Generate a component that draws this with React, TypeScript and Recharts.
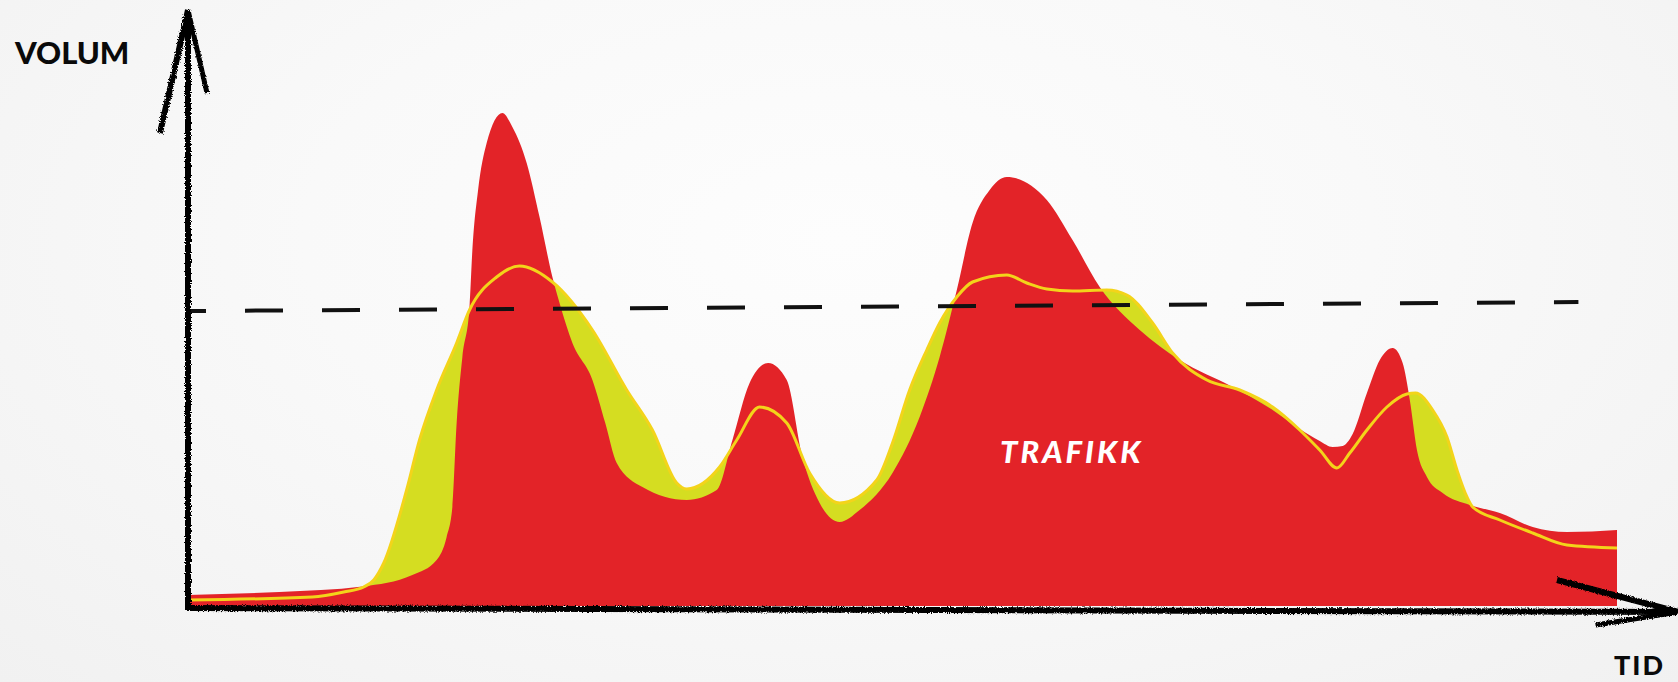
import { ComposedChart, Area, Line, XAxis, YAxis, ReferenceLine } from 'recharts';

// time in % of the window, volume in % of the plot height
const trafikkTid = [
  0, 6.4, 12.2, 15.7, 17.4, 18.1, 18.5, 18.8, 19.2, 19.7, 19.9, 20.3, 20.9, 22.0, 22.7, 23.7,
  24.6, 25.5, 26.0, 26.9, 28.3, 29.2, 30.0, 31.8, 34.9, 37.0, 38.1, 39.3, 40.6, 41.9, 43.0,
  44.2, 45.6, 47.0, 49.3, 51.2, 52.6, 53.8, 54.9, 56.1, 57.3, 60.1, 61.9, 63.8, 66.6, 69.4,
  73.1, 75.9, 77.8, 79.2, 80.1, 80.8, 81.5, 82.5, 83.4, 84.3, 85.0, 85.5, 86.0, 86.7, 87.8,
  89.7, 91.8, 94.1, 96.5, 100,
];
const trafikk = [
  2.2, 2.8, 3.9, 6.2, 9.2, 13.8, 19.8, 36.6, 49.8, 59.8, 71.2, 83.2, 92.6, 98.6, 95.8, 88.6,
  77.8, 65.8, 60.6, 52.6, 45.2, 36.6, 28.6, 23.8, 21.2, 23.2, 33.2, 44.6, 48.6, 45.2, 29.8,
  20.6, 16.8, 19.2, 26.6, 37.8, 49.8, 63.2, 76.6, 83.2, 85.8, 81.2, 73.2, 63.8, 55.2, 49.2,
  43.8, 39.2, 35.4, 33.0, 31.8, 32.0, 34.4, 42.6, 49.2, 51.6, 48.6, 41.2, 31.2, 25.8, 22.6,
  20.2, 18.6, 15.8, 14.8, 15.2,
];

const snittTid = [
  0, 8.7, 10.9, 12.3, 13.0, 13.7, 15.3, 16.2, 17.4, 18.8, 19.7, 21.6, 23.2, 25.5, 28.3, 30.7,
  32.5, 34.2, 34.9, 37.2, 38.4, 40.0, 41.9, 43.5, 45.6, 48.2, 49.3, 50.5, 51.7, 52.6, 53.8,
  54.9, 57.3, 58.7, 60.1, 61.9, 64.3, 65.7, 67.5, 68.9, 71.3, 73.6, 75.9, 77.8, 79.2, 80.4,
  81.3, 82.5, 83.9, 85.3, 85.9, 87.1, 88.1, 88.8, 89.5, 89.9, 91.8, 94.1, 96.5, 100,
];
const snitt = [
  1.2, 1.8, 2.8, 3.8, 5.2, 8.6, 23.2, 33.2, 43.2, 52.6, 59.2, 65.8, 68, 64.8, 55.2, 43.2,
  35.2, 24.6, 23.4, 27.8, 33.2, 39.8, 36.6, 26.6, 20.6, 25.2, 32.6, 43.2, 51.2, 56.6, 61.8,
  64.8, 66.2, 64.6, 63.4, 63.0, 63.2, 62.2, 56.6, 50.6, 45.2, 43.2, 39.8, 35.2, 31.2, 27.6,
  30.6, 35.2, 39.8, 42.4, 42.6, 39.2, 33.8, 27.2, 21.8, 19.8, 17.2, 14.6, 12.2, 11.6,
];

// dashed threshold, start and end level
const grense = [59, 60.8];

const trafikkData = trafikkTid.map((t, i) => ({ t, v: trafikk[i] }));
const snittData = snittTid.map((t, i) => ({ t, v: snitt[i] }));

const label = {
  position: 'absolute' as const,
  fontFamily: 'Lato, "DejaVu Sans", sans-serif',
  fontWeight: 900,
  lineHeight: 1,
  whiteSpace: 'nowrap' as const,
};

const axis = { stroke: '#000', filter: 'url(#rough)', ifOverflow: 'visible' as const };

export default function App() {
  return (
    <div
      style={{
        position: 'relative',
        width: 1678,
        height: 682,
        background: 'radial-gradient(ellipse at 50% 35%, #fdfdfd 0%, #f9f9f9 45%, #f1f1f1 100%)',
        overflow: 'hidden',
      }}
    >
      <style>{'body{margin:0}'}</style>
      <ComposedChart
        width={1678}
        height={682}
        margin={{ top: 106, right: 61, bottom: 76, left: 188 }}
      >
        <defs>
          <filter id="rough" filterUnits="userSpaceOnUse" x="0" y="0" width="1678" height="682">
            <feTurbulence type="fractalNoise" baseFrequency="0.8" numOctaves="2" result="n" />
            <feDisplacementMap in="SourceGraphic" in2="n" scale="4" />
          </filter>
        </defs>
        <XAxis type="number" dataKey="t" domain={[0, 100]} allowDataOverflow hide />
        <YAxis type="number" domain={[0, 100]} allowDataOverflow hide />
        <Area
          data={snittData}
          dataKey="v"
          type="monotone"
          fill="#d5dd21"
          fillOpacity={1}
          stroke="none"
          isAnimationActive={false}
        />
        <Area
          data={trafikkData}
          dataKey="v"
          type="monotone"
          fill="#e32328"
          fillOpacity={1}
          stroke="none"
          isAnimationActive={false}
        />
        <Line
          data={snittData}
          dataKey="v"
          type="monotone"
          stroke="#f3d41a"
          strokeWidth={3}
          dot={false}
          activeDot={false}
          isAnimationActive={false}
        />
        <ReferenceLine
          segment={[{ x: 0, y: grense[0] }, { x: 97.3, y: grense[1] }]}
          stroke="#111"
          strokeWidth={4}
          strokeDasharray="38 39"
          strokeDashoffset={20}
          ifOverflow="visible"
        />
        {/* hand drawn axes */}
        <ReferenceLine {...axis} strokeWidth={6} segment={[{ x: 0, y: -1 }, { x: 0, y: 119.2 }]} />
        <ReferenceLine {...axis} strokeWidth={6} segment={[{ x: -1.96, y: 94.6 }, { x: 0, y: 119.2 }]} />
        <ReferenceLine {...axis} strokeWidth={5} segment={[{ x: 1.33, y: 102.6 }, { x: 0, y: 119.2 }]} />
        <ReferenceLine {...axis} strokeWidth={6} segment={[{ x: 0, y: -0.4 }, { x: 104.3, y: -1.2 }]} />
        <ReferenceLine {...axis} strokeWidth={6} segment={[{ x: 95.8, y: 5.2 }, { x: 104.3, y: -1.2 }]} />
        <ReferenceLine {...axis} strokeWidth={5} segment={[{ x: 98.5, y: -3.8 }, { x: 104.3, y: -1.2 }]} />
      </ComposedChart>
      <div style={{ ...label, left: 15, top: 37, fontSize: 31, color: '#0a0a0a' }}>VOLUM</div>
      <div
        style={{
          ...label,
          left: 1000,
          top: 436,
          fontSize: 31,
          letterSpacing: 3,
          fontStyle: 'italic',
          color: '#ffffff',
        }}
      >
        TRAFIKK
      </div>
      <div style={{ ...label, left: 1614, top: 651, fontSize: 27, letterSpacing: 2, color: '#0a0a0a' }}>
        TID
      </div>
    </div>
  );
}
